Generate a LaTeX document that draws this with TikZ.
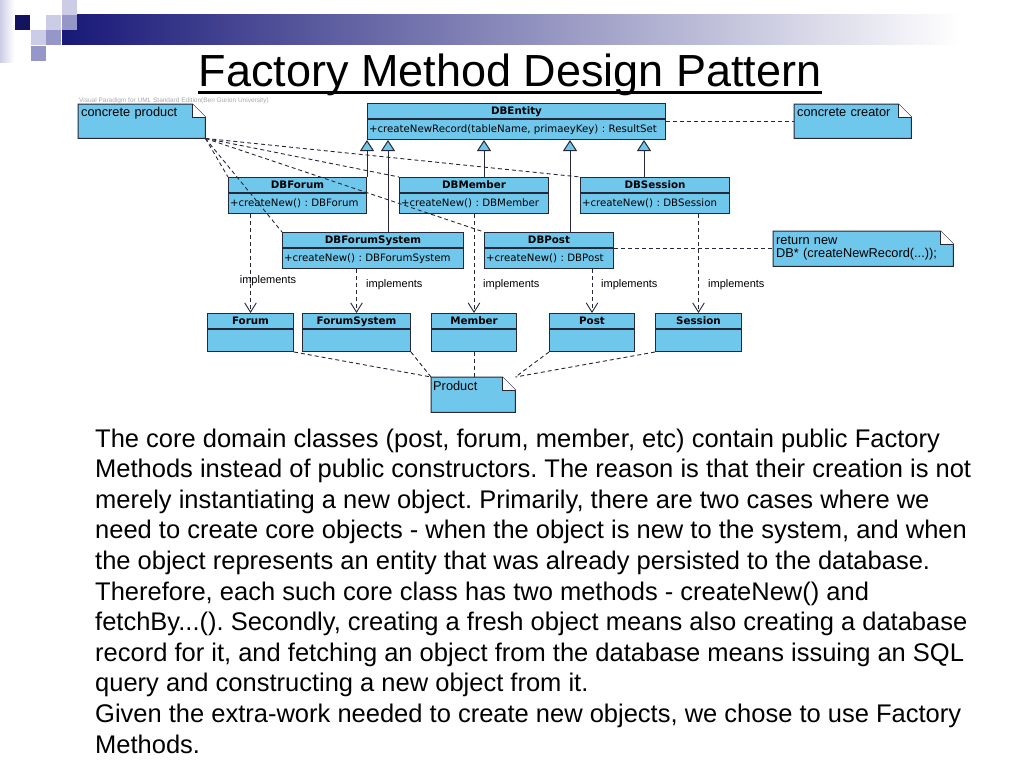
\documentclass[tikz,border=0pt]{standalone}
\usepackage{fontspec}
\setmainfont{Liberation Sans}
\newfontfamily\umlfont{DejaVu Sans}
\usepackage{tikz}
\usetikzlibrary{arrows.meta, positioning, shapes, backgrounds}
\frenchspacing

\definecolor{umlblue}{RGB}{112,199,236}
\definecolor{umlline}{RGB}{38,40,58}
\definecolor{slidenavy}{RGB}{24,24,120}
\definecolor{sqlight}{RGB}{204,204,230}
\definecolor{sqmid}{RGB}{150,150,200}

\tikzset{
  chead/.style={draw=umlline, fill=umlblue, line width=1pt, inner sep=0pt, minimum height=15pt,
    text height=7.5pt, text depth=1.5pt, anchor=north west, font=\umlfont\bfseries\fontsize{10.3}{12}\selectfont},
  cbody/.style={draw=umlline, fill=umlblue, line width=1pt, inner xsep=1.5pt, inner ysep=0pt,
    minimum height=20pt, text height=7.5pt, text depth=2pt, align=left, font=\umlfont\fontsize{10.2}{12}\selectfont},
  notebox/.style={anchor=north west, inner xsep=3pt, inner ysep=2pt, align=left,
    text height=10pt, text depth=20pt, font=\fontsize{12.8}{13}\selectfont},
  notefold/.style={draw=umlline, fill=umlblue, line width=1pt},
  gen/.style={draw=umlline, line width=1pt, -{Triangle[length=11pt, width=14pt, fill=umlblue]}},
  impl/.style={draw=umlline, line width=0.9pt, dash pattern=on 4pt off 3pt, -{Straight Barb[angle=64:11pt]}},
  dep/.style={draw=umlline, line width=0.9pt, dash pattern=on 4pt off 3pt},
  impllabel/.style={font=\fontsize{11}{12}\selectfont, inner sep=0pt},
}

% folded corner round a note node
\newcommand{\notecorner}[1]{%
  \begin{scope}[on background layer]
    \draw [notefold] (#1.south west) -- (#1.north west) -- ([xshift=-13pt]#1.north east)
      -- ([yshift=-13pt]#1.north east) -- (#1.south east) -- cycle;
  \end{scope}
  \draw [notefold, fill=white] ([xshift=-13pt]#1.north east) -- ([xshift=-13pt, yshift=-13pt]#1.north east)
    -- ([yshift=-13pt]#1.north east);
}

\begin{document}
\begin{tikzpicture}[x=1pt, y=-1pt]
\useasboundingbox (0,0) rectangle (1024,768);

% slide decoration
\shade [left color=slidenavy, right color=white] (62,15) rectangle (960,45);
\shade [left color=sqlight, right color=white] (0,0) rectangle (14,62);
\fill [slidenavy!80!black] (15,15) rectangle (30,30);
\fill [sqlight] (62,0) rectangle (77,15);
\fill [sqlight] (46,15) rectangle (61,30);
\fill [sqmid] (62,15) rectangle (77,30);
\fill [sqlight] (31,30) rectangle (46,45);
\fill [sqmid] (46,30) rectangle (61,45);
\fill [sqmid] (31,46) rectangle (46,61);

% title
\node [font=\fontsize{45}{50}\selectfont, inner sep=0pt, anchor=base] (title) at (510,86)
  {Factory Method Design Pattern};
\draw [line width=3pt] ([yshift=-6.5pt]title.base west) -- ([yshift=-6.5pt]title.base east);

% base class
\node [chead, minimum width=298pt] (entity) at (367,103) {DBEntity};
\node [cbody, text width=295pt, below=0pt of entity] (entityb)
  {+createNewRecord(tableName, primaeyKey) : ResultSet};

% concrete creators
\node [chead, minimum width=138pt] (dbforum) at (228,177) {DBForum};
\node [cbody, text width=135pt, below=0pt of dbforum] (dbforumb) {+createNew() : DBForum};
\node [chead, minimum width=149pt] (dbmember) at (399,177) {DBMember};
\node [cbody, text width=146pt, below=0pt of dbmember] (dbmemberb) {+createNew() : DBMember};
\node [chead, minimum width=149pt] (dbsession) at (580,177) {DBSession};
\node [cbody, text width=146pt, below=0pt of dbsession] (dbsessionb) {+createNew() : DBSession};
\node [chead, minimum width=181pt] (dbforumsys) at (282,232) {DBForumSystem};
\node [cbody, text width=178pt, below=0pt of dbforumsys] (dbforumsysb) {+createNew() : DBForumSystem};
\node [chead, minimum width=129pt] (dbpost) at (484,232) {DBPost};
\node [cbody, text width=126pt, below=0pt of dbpost] (dbpostb) {+createNew() : DBPost};

% products
\node [chead, minimum width=86pt] (forum) at (207,313) {Forum};
\node [cbody, text width=83pt, minimum height=22pt, below=0pt of forum] (forumb) {};
\node [chead, minimum width=108pt] (forumsys) at (302,313) {ForumSystem};
\node [cbody, text width=105pt, minimum height=22pt, below=0pt of forumsys] (forumsysb) {};
\node [chead, minimum width=85pt] (member) at (431,313) {Member};
\node [cbody, text width=82pt, minimum height=22pt, below=0pt of member] (memberb) {};
\node [chead, minimum width=85pt] (post) at (549,313) {Post};
\node [cbody, text width=82pt, minimum height=22pt, below=0pt of post] (postb) {};
\node [chead, minimum width=86pt] (session) at (655,313) {Session};
\node [cbody, text width=83pt, minimum height=22pt, below=0pt of session] (sessionb) {};

% notes
\node [notebox, text width=121pt] (cprod) at (78,104) {concrete product};
\node [notebox, text width=111pt] (ccreator) at (794,104) {concrete creator};
\node [notebox, text width=174pt, text height=11pt, text depth=20pt] (retnote) at (773,231)
  {return new\\DB* (createNewRecord(...));};
\node [notebox, inner xsep=2pt, text width=80pt, text height=11pt, text depth=20pt] (product) at (431,377) {Product};
\notecorner{cprod}
\notecorner{ccreator}
\notecorner{retnote}
\notecorner{product}
\node [font=\fontsize{6.5}{7}\selectfont, text=black!35, anchor=west, inner sep=0pt] (vpmark) at (79,100.5)
  {Visual Paradigm for UML Standard Edition(Ben Gurion University)};

% generalisation
\draw [gen] (dbforum.north east) -- (dbforum.north east |- entityb.south);
\draw [gen] ([xshift=106pt]dbforumsys.north west) -- ([xshift=106pt]dbforumsys.north west |- entityb.south);
\draw [gen] ([xshift=85pt]dbmember.north west) -- ([xshift=85pt]dbmember.north west |- entityb.south);
\draw [gen] ([xshift=86pt]dbpost.north west) -- ([xshift=86pt]dbpost.north west |- entityb.south);
\draw [gen] ([xshift=64pt]dbsession.north west) -- ([xshift=64pt]dbsession.north west |- entityb.south);

% implements
\draw [impl] (forum.north |- dbforumb.south) -- (forum.north);
\draw [impl] (forumsys.north |- dbforumsysb.south) -- (forumsys.north);
\draw [impl] (member.north |- dbmemberb.south) -- (member.north);
\draw [impl] (post.north |- dbpostb.south) -- (post.north);
\draw [impl] (session.north |- dbsessionb.south) -- (session.north);
\node [impllabel] (impl1) at (268,281) {implements};
\node [impllabel, anchor=west] (impl2) at (366,285) {implements};
\node [impllabel, anchor=west] (impl3) at (483,285) {implements};
\node [impllabel, anchor=west] (impl4) at (601,285) {implements};
\node [impllabel, anchor=west] (impl5) at (708,285) {implements};

% note links
\draw [dep] (entityb.east |- ccreator.west) -- (ccreator.west);
\draw [dep] (dbpostb.east |- retnote.west) -- (retnote.west);
\draw [dep] (cprod.south east) -- (dbforum.north west);
\draw [dep] (cprod.south east) -- (dbforumsys.north west);
\draw [dep] (cprod.south east) -- (dbmember.north west);
\draw [dep] (cprod.south east) -- (dbpost.north west);
\draw [dep] (cprod.south east) -- (dbsession.north west);
\draw [dep] (forumb.south east) -- (product.north west);
\draw [dep] (forumsysb.south east) -- (product.north west);
\draw [dep] (memberb.south) -- (memberb.south |- product.north);
\draw [dep] (postb.south west) -- (product.north east);
\draw [dep] (sessionb.south west) -- (product.north east);

% text
\node [anchor=north west, inner sep=0pt, align=left, font=\fontsize{25.5}{30.6}\selectfont] (body) at (95,428.5)
  {The core domain classes (post, forum, member, etc) contain public Factory\\
   Methods instead of public constructors. The reason is that their creation is not\\
   merely instantiating a new object. Primarily, there are two cases where we\\
   need to create core objects - when the object is new to the system, and when\\
   the object represents an entity that was already persisted to the database.\\
   Therefore, each such core class has two methods - createNew() and\\
   fetchBy...(). Secondly, creating a fresh object means also creating a database\\
   record for it, and fetching an object from the database means issuing an SQL\\
   query and constructing a new object from it.\\
   Given the extra-work needed to create new objects, we chose to use Factory\\
   Methods.};

\end{tikzpicture}
\end{document}
